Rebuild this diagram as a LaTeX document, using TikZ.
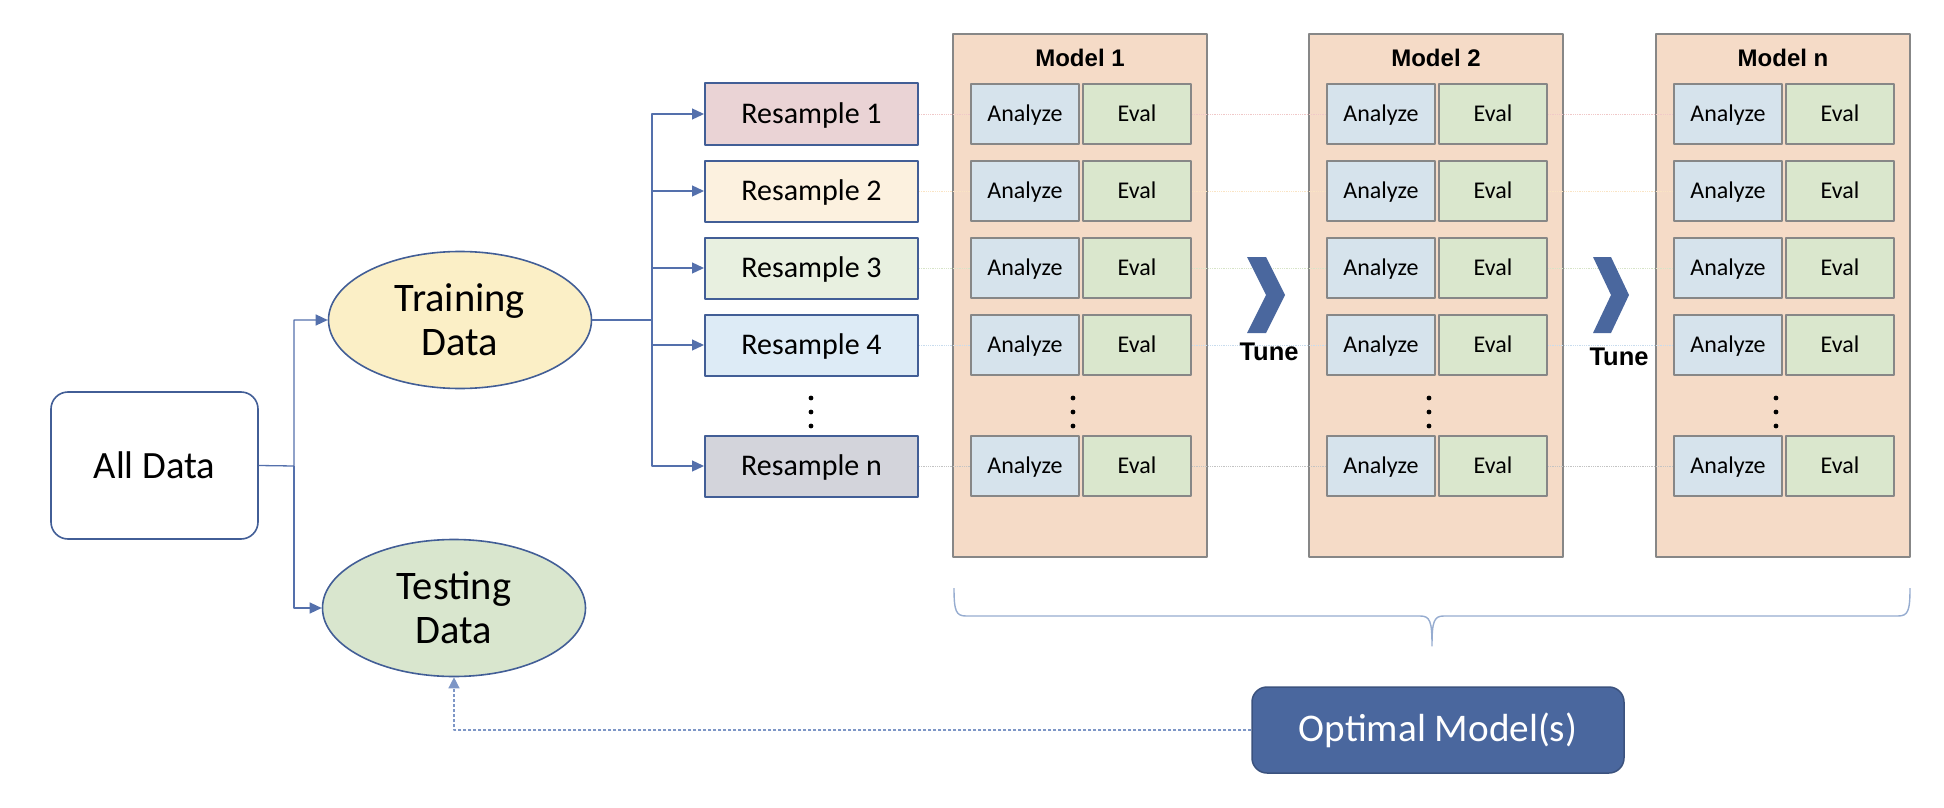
\documentclass[tikz,border=0pt]{standalone}
\usepackage{fontspec}
\setmainfont{Carlito}
\newfontfamily\headfont{Liberation Sans}
\usetikzlibrary{arrows.meta,shapes.geometric}

\definecolor{linkblue}{RGB}{84,112,172}
\definecolor{edgeblue}{RGB}{66,94,150}
\definecolor{darkblue}{RGB}{74,103,158}
\definecolor{bracegray}{RGB}{150,172,208}
\definecolor{dashblue}{RGB}{125,150,198}
\definecolor{trainfill}{RGB}{251,239,198}
\definecolor{testfill}{RGB}{217,230,206}
\definecolor{resone}{RGB}{234,211,213}
\definecolor{restwo}{RGB}{252,241,223}
\definecolor{resthree}{RGB}{232,240,224}
\definecolor{resfour}{RGB}{221,235,246}
\definecolor{resn}{RGB}{211,212,219}
\definecolor{modelfill}{RGB}{245,219,199}
\definecolor{modeledge}{RGB}{135,135,135}
\definecolor{anfill}{RGB}{214,227,236}
\definecolor{evfill}{RGB}{218,231,205}
\definecolor{rowpink}{RGB}{240,200,200}
\definecolor{rowcream}{RGB}{250,228,196}
\definecolor{rowgreen}{RGB}{215,228,200}
\definecolor{rowblue}{RGB}{200,220,238}
\definecolor{rowgray}{RGB}{195,195,195}

\tikzset{
  conn/.style={draw=linkblue, line width=1.3pt, -{Triangle[length=12pt,width=11pt]}},
  dashconn/.style={draw=dashblue, line width=1.3pt, densely dashed, -{Triangle[length=11pt,width=11pt]}},
  rowline/.style={line width=0.8pt, densely dotted},
  databox/.style={draw=edgeblue, line width=1.6pt, rounded corners=17pt, minimum width=207pt, minimum height=147pt, inner sep=0pt, font=\fontsize{38.6}{42}\selectfont},
  dataoval/.style={ellipse, draw=edgeblue, line width=1.6pt, minimum width=263pt, minimum height=137pt, inner sep=0pt, align=center, font=\fontsize{40.5}{44}\selectfont},
  resbox/.style={draw=edgeblue, line width=2pt, minimum width=213pt, minimum height=61pt, inner sep=0pt, text height=24pt, text depth=5pt, font=\fontsize{30}{32}\selectfont},
  modelbox/.style={draw=modeledge, fill=modelfill, line width=2pt, minimum width=254pt, minimum height=523pt, inner sep=0pt},
  modeltitle/.style={font=\headfont\bfseries\fontsize{24}{26}\selectfont},
  stagebox/.style={draw=modeledge, line width=2pt, minimum width=108pt, minimum height=60pt, inner sep=0pt, text height=20pt, text depth=5pt, font=\fontsize{24}{26}\selectfont},
  dot/.style={fill=black},
  chevron/.style={fill=darkblue, draw=none},
  tunelabel/.style={font=\headfont\bfseries\fontsize{25.5}{27}\selectfont},
  optbox/.style={draw=darkblue!80!black, fill=darkblue, line width=1.5pt, rounded corners=15pt, minimum width=372pt, minimum height=86pt, inner sep=0pt, text=white, font=\fontsize{39.2}{42}\selectfont}
}

\begin{document}
\begin{tikzpicture}[x=1pt,y=-1pt,line join=round]
\useasboundingbox (0,0) rectangle (1944,808);

\node[databox] (all) at (154.5,465.5) {All Data};
\node[dataoval, fill=trainfill] (train) at (460,320) {Training\\Data};
\node[dataoval, fill=testfill] (test) at (454,608) {Testing\\Data};
\coordinate (fork) at (294,466);
\coordinate (split) at (652,320);

\draw[conn] (all.east) -- (fork) |- (train.west);
\draw[conn] (fork) |- (test.west);

\foreach \r/\y/\c in {1/114/resone,2/191/restwo,3/268/resthree,4/345/resfour,n/466/resn}
  \node[resbox, fill=\c] (R\r) at (811.5,\y) {Resample \r};
\foreach \d in {398,412,426}
  \fill[dot] (811,\d) circle (2.4);

\draw[draw=linkblue, line width=1.3pt] (train.east) -- (split);
\foreach \r in {1,2,3,4,n}
  \draw[conn] (split) |- (R\r.west);

\foreach \m/\x in {1/953,2/1309,n/1656} {
  \node[modelbox] (M\m) at (\x+127,295.5) {};
  \node[modeltitle] (T\m) at (\x+127,58) {Model \m};
  \foreach \r/\y in {1/114,2/191,3/268,4/345,n/466} {
    \node[stagebox, fill=anfill] (A-\m-\r) at (\x+72,\y) {Analyze};
    \node[stagebox, fill=evfill] (E-\m-\r) at (\x+184,\y) {Eval};
  }
  \foreach \d in {398,412,426}
    \fill[dot] (\x+120,\d) circle (2.4);
}

\foreach \r/\c in {1/rowpink,2/rowcream,3/rowgreen,4/rowblue,n/rowgray} {
  \draw[rowline, draw=\c] (R\r.east) -- (A-1-\r.west);
  \draw[rowline, draw=\c] (E-1-\r.east) -- (A-2-\r.west);
  \draw[rowline, draw=\c] (E-2-\r.east) -- (A-n-\r.west);
}

\fill[chevron] (1247,257) -- (1266,257) -- (1285,295) -- (1266,333) -- (1247,333) -- (1266,295) -- cycle;
\fill[chevron] (1593,257) -- (1611,257) -- (1629,295) -- (1611,333) -- (1593,333) -- (1611,295) -- cycle;
\node[tunelabel] (tune1) at (1269,352) {Tune};
\node[tunelabel] (tune2) at (1619,357) {Tune};

\draw[draw=bracegray, line width=1.4pt]
  (954,588) .. controls (954,611) and (956,616) .. (966,616) -- (1420,616)
  .. controls (1430,616) and (1432,621) .. (1432,646)
  .. controls (1432,621) and (1434,616) .. (1444,616) -- (1898,616)
  .. controls (1908,616) and (1910,611) .. (1910,588);

\node[optbox] (opt) at (1438,730) {Optimal Model(s)};
\draw[dashconn] (opt.west) -| (test.south);
\end{tikzpicture}
\end{document}
